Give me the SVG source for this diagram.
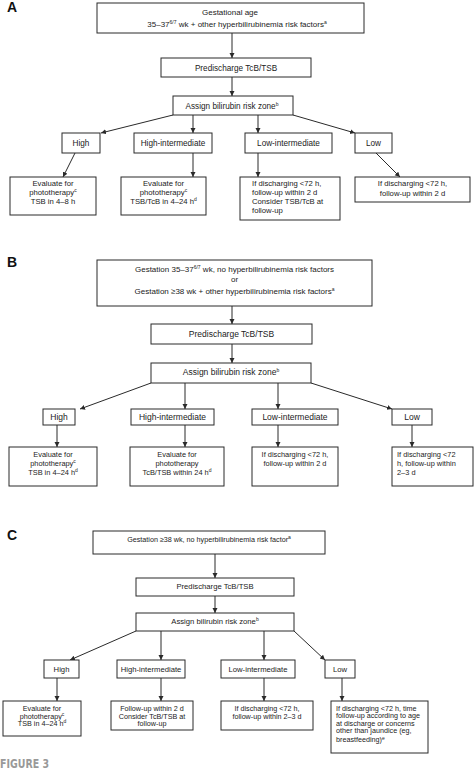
<svg xmlns="http://www.w3.org/2000/svg" width="474" height="771" viewBox="0 0 474 771">
<defs>
<marker id="ah" markerUnits="userSpaceOnUse" markerWidth="6" markerHeight="6" refX="5" refY="2.5" orient="auto">
<path d="M0,0 L5,2.5 L0,5 z" fill="#2a2a2a"/>
</marker>
<style>
.b{fill:#fff;stroke:#2a2a2a;stroke-width:1}
.c{stroke:#2a2a2a;stroke-width:1;fill:none;marker-end:url(#ah)}
text{font-family:"Liberation Sans",Arial,sans-serif;fill:#222}
.m{text-anchor:middle}
.pl{font-size:14px;font-weight:bold;fill:#111}
.s{font-size:5px}
.a1{font-size:8px}.a2{font-size:8.2px}.a3{font-size:7.7px}
.b1{font-size:8px}.b2{font-size:8.5px}.b3{font-size:7.4px}
.c1{font-size:7.2px}.c2{font-size:7.7px}.c3{font-size:7.2px}
.fig{font-family:"DejaVu Sans Condensed","Liberation Sans Narrow","DejaVu Sans",sans-serif;font-weight:bold;font-size:12px;fill:#999}
</style>
</defs>
<rect width="474" height="771" fill="#fff"/>

<!-- Panel A -->
<text class="pl" x="7" y="12">A</text>
<g id="connectorsA">
<line class="c" x1="232" y1="33" x2="232" y2="58"/>
<line class="c" x1="232" y1="77" x2="232" y2="96"/>
<line class="c" x1="173" y1="115" x2="101" y2="133"/>
<line class="c" x1="193" y1="115" x2="193" y2="133"/>
<line class="c" x1="258" y1="115" x2="258" y2="133"/>
<line class="c" x1="293" y1="115" x2="355" y2="133"/>
<line class="c" x1="75" y1="153" x2="63" y2="177"/>
<line class="c" x1="193" y1="153" x2="193" y2="177"/>
<line class="c" x1="258" y1="153" x2="258" y2="177"/>
<line class="c" x1="376" y1="153" x2="400" y2="177"/>
</g>
<g id="A_top"><rect class="b" x="97" y="3" width="267" height="30"/>
<text class="m a1" x="230" y="15">Gestational age</text>
<text class="m a1" x="237" y="27">35–37<tspan class="s" dy="-3">6/7</tspan><tspan dy="3"> wk + other hyperbilirubinemia risk factors</tspan><tspan class="s" dy="-3">a</tspan></text></g>
<g id="A_pre"><rect class="b" x="161" y="58" width="150" height="19"/><text class="m a2" x="236" y="70.5">Predischarge TcB/TSB</text></g>
<g id="A_assign"><rect class="b" x="173" y="96" width="120" height="19"/><text class="m a2" x="232" y="108.5">Assign bilirubin risk zone<tspan class="s" dy="-3">b</tspan></text></g>
<g id="A_high"><rect class="b" x="62" y="133" width="38" height="20"/><text class="m a2" x="81" y="146">High</text></g>
<g id="A_hi"><rect class="b" x="134" y="133" width="78" height="20"/><text class="m a2" x="173" y="146">High-intermediate</text></g>
<g id="A_li"><rect class="b" x="245" y="133" width="87" height="20"/><text class="m a2" x="288.5" y="146">Low-intermediate</text></g>
<g id="A_low"><rect class="b" x="355" y="133" width="37" height="20"/><text class="m a2" x="373.5" y="146">Low</text></g>
<g id="A_r1"><rect class="b" x="10" y="177" width="86" height="38"/>
<text class="m a3" x="53" y="186">Evaluate for</text>
<text class="m a3" x="53" y="195">phototherapy<tspan class="s" dy="-3">c</tspan></text>
<text class="m a3" x="53" y="204">TSB in 4–8 h</text></g>
<g id="A_r2"><rect class="b" x="121" y="177" width="85" height="38"/>
<text class="m a3" x="163.5" y="186">Evaluate for</text>
<text class="m a3" x="163.5" y="195">phototherapy<tspan class="s" dy="-3">c</tspan></text>
<text class="m a3" x="163.5" y="204">TSB/TcB in 4–24 h<tspan class="s" dy="-3">d</tspan></text></g>
<g id="A_r3"><rect class="b" x="240" y="177" width="100" height="43"/>
<text class="a3" x="252" y="186">If discharging &lt;72 h,</text>
<text class="a3" x="252" y="195">follow-up within 2 d</text>
<text class="a3" x="252" y="204">Consider TSB/TcB at</text>
<text class="a3" x="252" y="213">follow-up</text></g>
<g id="A_r4"><rect class="b" x="355" y="177" width="115" height="25"/>
<text class="m a3" x="412.5" y="186">If discharging &lt;72 h,</text>
<text class="m a3" x="412.5" y="195.5">follow-up within 2 d</text></g>

<!-- Panel B -->
<text class="pl" x="7" y="267">B</text>
<g id="connectorsB">
<line class="c" x1="232" y1="306" x2="232" y2="324"/>
<line class="c" x1="232" y1="344" x2="232" y2="363"/>
<line class="c" x1="151" y1="383" x2="80" y2="409"/>
<line class="c" x1="185" y1="383" x2="185" y2="409"/>
<line class="c" x1="278" y1="383" x2="278" y2="409"/>
<line class="c" x1="311" y1="383" x2="392" y2="409"/>
<line class="c" x1="57" y1="425" x2="57" y2="447"/>
<line class="c" x1="185" y1="425" x2="185" y2="447"/>
<line class="c" x1="278" y1="425" x2="278" y2="447"/>
<line class="c" x1="412" y1="425" x2="412" y2="447"/>
</g>
<g id="B_top"><rect class="b" x="97" y="260" width="275" height="46"/>
<text class="m b1" x="234.5" y="272">Gestation 35–37<tspan class="s" dy="-3">6/7</tspan><tspan dy="3"> wk, no hyperbilirubinemia risk factors</tspan></text>
<text class="m b1" x="234.5" y="282">or</text>
<text class="m b1" x="234.5" y="293.5">Gestation ≥38 wk + other hyperbilirubinemia risk factors<tspan class="s" dy="-3">a</tspan></text></g>
<g id="B_pre"><rect class="b" x="151" y="324" width="161" height="20"/><text class="m b2" x="231.5" y="337">Predischarge TcB/TSB</text></g>
<g id="B_assign"><rect class="b" x="151" y="363" width="160" height="20"/><text class="m b2" x="231" y="375">Assign bilirubin risk zone<tspan class="s" dy="-3">b</tspan></text></g>
<g id="B_high"><rect class="b" x="43" y="409" width="32" height="16"/><text class="m b2" x="59" y="420">High</text></g>
<g id="B_hi"><rect class="b" x="131" y="409" width="83" height="16"/><text class="m b2" x="172.5" y="420">High-intermediate</text></g>
<g id="B_li"><rect class="b" x="252" y="409" width="86" height="16"/><text class="m b2" x="295" y="420">Low-intermediate</text></g>
<g id="B_low"><rect class="b" x="392" y="409" width="40" height="16"/><text class="m b2" x="412" y="420">Low</text></g>
<g id="B_r1"><rect class="b" x="9" y="447" width="88" height="39"/>
<text class="m b3" x="53" y="457">Evaluate for</text>
<text class="m b3" x="53" y="466">phototherapy<tspan class="s" dy="-3">c</tspan></text>
<text class="m b3" x="53" y="475">TSB in 4–24 h<tspan class="s" dy="-3">d</tspan></text></g>
<g id="B_r2"><rect class="b" x="130" y="447" width="94" height="39"/>
<text class="m b3" x="177" y="457">Evaluate for</text>
<text class="m b3" x="177" y="466">phototherapy</text>
<text class="m b3" x="177" y="475">TcB/TSB within 24 h<tspan class="s" dy="-3">d</tspan></text></g>
<g id="B_r3"><rect class="b" x="252" y="447" width="86" height="39"/>
<text class="m b3" x="295" y="457">If discharging &lt;72 h,</text>
<text class="m b3" x="295" y="466">follow-up within 2 d</text></g>
<g id="B_r4"><rect class="b" x="392" y="447" width="81" height="39"/>
<text class="b3" x="397" y="457">If discharging &lt;72</text>
<text class="b3" x="397" y="466">h, follow-up within</text>
<text class="b3" x="397" y="475">2–3 d</text></g>

<!-- Panel C -->
<text class="pl" x="7" y="540">C</text>
<g id="connectorsC">
<line class="c" x1="215" y1="554" x2="215" y2="578"/>
<line class="c" x1="215" y1="596" x2="215" y2="613"/>
<line class="c" x1="136" y1="631" x2="70" y2="660"/>
<line class="c" x1="161" y1="631" x2="161" y2="660"/>
<line class="c" x1="264" y1="631" x2="264" y2="660"/>
<line class="c" x1="294" y1="631" x2="325" y2="660"/>
<line class="c" x1="57" y1="678" x2="57" y2="701"/>
<line class="c" x1="161" y1="678" x2="161" y2="701"/>
<line class="c" x1="264" y1="678" x2="264" y2="701"/>
<line class="c" x1="342" y1="678" x2="342" y2="701"/>
</g>
<g id="C_top"><rect class="b" x="93" y="531" width="232" height="23"/>
<text class="m c1" x="209" y="542">Gestation ≥38 wk, no hyperbilirubinemia risk factor<tspan class="s" dy="-3">a</tspan></text></g>
<g id="C_pre"><rect class="b" x="136" y="578" width="158" height="18"/><text class="m c2" x="215" y="588.5">Predischarge TcB/TSB</text></g>
<g id="C_assign"><rect class="b" x="136" y="613" width="158" height="18"/><text class="m c2" x="215" y="624">Assign bilirubin risk zone<tspan class="s" dy="-3">b</tspan></text></g>
<g id="C_high"><rect class="b" x="44" y="660" width="35" height="18"/><text class="m c2" x="61.5" y="671.5">High</text></g>
<g id="C_hi"><rect class="b" x="117" y="660" width="68" height="18"/><text class="m c2" x="151" y="671.5">High-intermediate</text></g>
<g id="C_li"><rect class="b" x="221" y="660" width="74" height="18"/><text class="m c2" x="258" y="671.5">Low-intermediate</text></g>
<g id="C_low"><rect class="b" x="325" y="660" width="30" height="18"/><text class="m c2" x="340" y="671.5">Low</text></g>
<g id="C_r1"><rect class="b" x="3" y="701" width="78" height="35"/>
<text class="m c3" x="42" y="711">Evaluate for</text>
<text class="m c3" x="42" y="718.5">phototherapy<tspan class="s" dy="-3">c</tspan></text>
<text class="m c3" x="42" y="726">TSB in 4–24 h<tspan class="s" dy="-3">d</tspan></text></g>
<g id="C_r2"><rect class="b" x="111" y="701" width="82" height="29"/>
<text class="m c3" x="152" y="711">Follow-up within 2 d</text>
<text class="m c3" x="152" y="718.5">Consider TcB/TSB at</text>
<text class="m c3" x="152" y="726">follow-up</text></g>
<g id="C_r3"><rect class="b" x="221" y="701" width="92" height="29"/>
<text class="m c3" x="267" y="711">If discharging &lt;72 h,</text>
<text class="m c3" x="267" y="718.5">follow-up within 2–3 d</text></g>
<g id="C_r4"><rect class="b" x="331" y="701" width="97" height="52"/>
<text class="c3" x="336" y="710.5">If discharging &lt;72 h, time</text>
<text class="c3" x="336" y="718">follow-up according to age</text>
<text class="c3" x="336" y="725.5">at discharge or concerns</text>
<text class="c3" x="336" y="733">other than jaundice (eg,</text>
<text class="c3" x="336" y="742">breastfeeding)<tspan class="s" dy="-2.5">e</tspan></text></g>

<text class="fig" x="0" y="768" textLength="49" lengthAdjust="spacingAndGlyphs">FIGURE 3</text>
</svg>
